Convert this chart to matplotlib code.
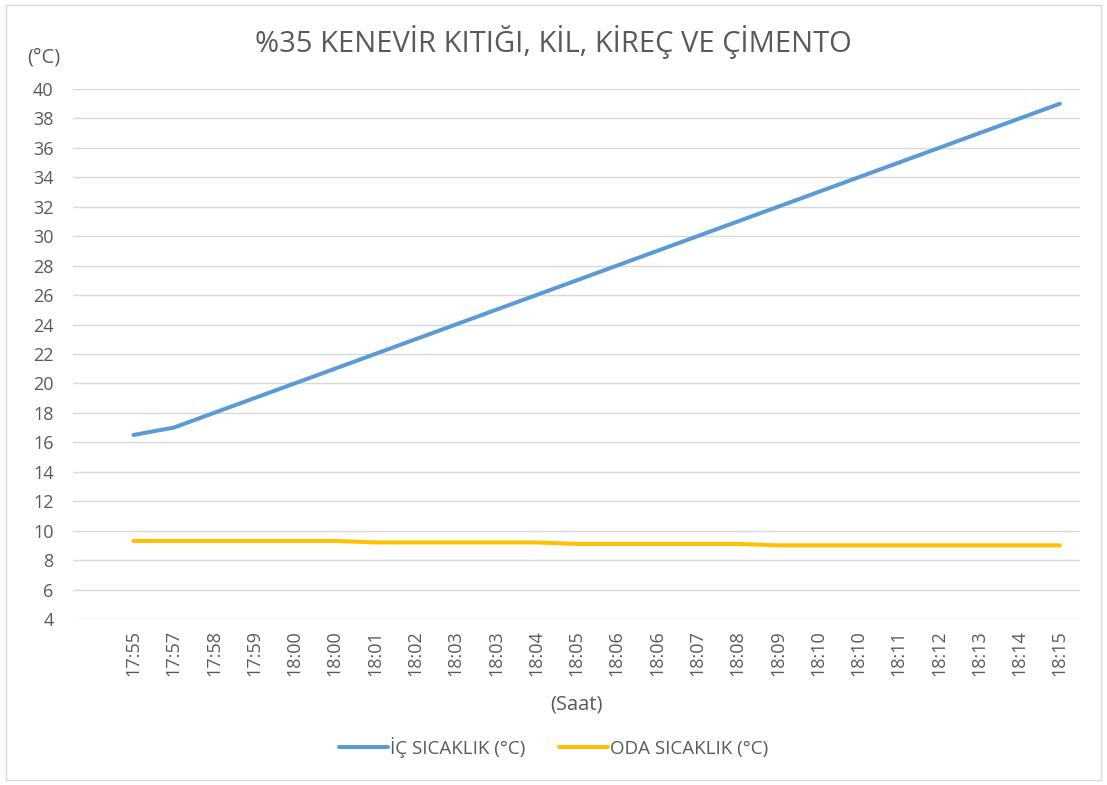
import matplotlib.pyplot as plt
from matplotlib.patches import Rectangle

# data
saat = ["17:55", "17:57", "17:58", "17:59", "18:00", "18:00", "18:01", "18:02",
        "18:03", "18:03", "18:04", "18:05", "18:06", "18:06", "18:07", "18:08",
        "18:09", "18:10", "18:10", "18:11", "18:12", "18:13", "18:14", "18:15"]
ic_sicaklik = [16.5, 17, 18, 19, 20, 21, 22, 23, 24, 25, 26, 27,
               28, 29, 30, 31, 32, 33, 34, 35, 36, 37, 38, 39]
oda_sicaklik = [9.3, 9.3, 9.3, 9.3, 9.3, 9.3, 9.2, 9.2, 9.2, 9.2, 9.2, 9.1,
                9.1, 9.1, 9.1, 9.1, 9.0, 9.0, 9.0, 9.0, 9.0, 9.0, 9.0, 9.0]
y_ticks = list(range(4, 41, 2))

plt.rcParams['font.family'] = ['Open Sans', 'DejaVu Sans']
gray = '#595959'

fig = plt.figure(figsize=(11.07, 7.85), dpi=100)
ax = fig.add_axes([0.066, 0.2115, 0.9096, 0.6751])

x = list(range(len(saat)))
ax.plot(x, ic_sicaklik, color='#5B9BD5', linewidth=2.9, solid_capstyle='round',
        label='İÇ SICAKLIK (°C)')
ax.plot(x, oda_sicaklik, color='#FFC000', linewidth=2.9, solid_capstyle='round',
        label='ODA SICAKLIK (°C)')

ax.set_xlim(-1.5, len(saat) - 0.5)
ax.set_ylim(4, 40)
ax.set_yticks(y_ticks)
ax.set_xticks(x)
ax.set_xticklabels(saat, rotation=90)
ax.tick_params(length=0, labelsize=13, colors=gray, pad=8)
ax.tick_params(axis='y', pad=14)
ax.grid(axis='y', color='#d9d9d9', linewidth=1)
ax.set_axisbelow(True)
for s in ax.spines.values():
    s.set_visible(False)

fig.text(0.5, 0.946, '%35 KENEVİR KITIĞI, KİL, KİREÇ VE ÇİMENTO',
         ha='center', va='center', fontsize=21, color=gray)
fig.text(0.040, 0.927, '(°C)', ha='center', va='center', fontsize=14.5, color=gray)
fig.text(0.521, 0.102, '(Saat)', ha='center', va='center', fontsize=14.5, color=gray)

fig.legend(loc='center', bbox_to_anchor=(0.5, 0.048), ncol=2, frameon=False,
           fontsize=13.5, labelcolor=gray, handlelength=2.6, handletextpad=0.1,
           columnspacing=1.8)

fig.patches.append(Rectangle((0.005, 0.006), 0.99, 0.988, transform=fig.transFigure,
                             fill=False, edgecolor='#d9d9d9', linewidth=1))

fig.savefig('out.png', dpi=100)
